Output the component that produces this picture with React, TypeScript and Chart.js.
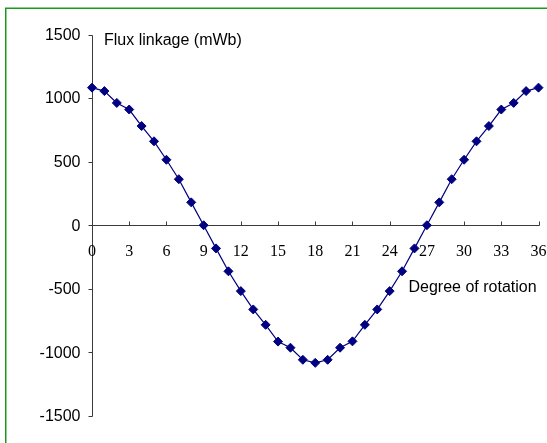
import React, { useEffect, useRef } from "react";
import { Chart, registerables } from "chart.js";

Chart.register(...registerables);

// ---- data ----
const degrees = [
  0, 1, 2, 3, 4, 5, 6, 7, 8, 9, 10, 11, 12, 13, 14, 15, 16, 17, 18,
  19, 20, 21, 22, 23, 24, 25, 26, 27, 28, 29, 30, 31, 32, 33, 34, 35, 36,
];
const fluxLinkage = [
  1082, 1055, 962, 910, 780, 660, 515, 362, 180, 0, -182, -362, -518, -662, -783, -915, -963, -1058, -1082,
  -1058, -963, -913, -783, -662, -518, -362, -182, 0, 180, 362, 515, 660, 780, 910, 962, 1055, 1082,
];
const xTickValues = [0, 3, 6, 9, 12, 15, 18, 21, 24, 27, 30, 33, 36];
const xTickLabels = ["0", "3", "6", "9", "12", "15", "18", "21", "24", "27", "30", "33", "36"];
const yTickValues = [1500, 1000, 500, 0, -500, -1000, -1500];
const yTickLabels = ["1500", "1000", "500", "0", "-500", "-1000", "-1500"];
const yAxisTitle = "Flux linkage (mWb)";
const xAxisTitle = "Degree of rotation";

const axesPlugin = {
  id: "customAxes",
  beforeDatasetsDraw(chart: any) {
    const ctx = chart.ctx as CanvasRenderingContext2D;
    const xs = chart.scales.x;
    const ys = chart.scales.y;
    ctx.save();

    // outer green frame
    ctx.strokeStyle = "#1a9a1a";
    ctx.lineWidth = 1.5;
    ctx.strokeRect(5.75, 8.25, 700, 700);

    const x0 = Math.round(xs.getPixelForValue(0)) + 0.5;
    const y0 = Math.round(ys.getPixelForValue(0)) + 0.5;
    const yTop = Math.round(ys.getPixelForValue(yTickValues[0])) + 0.5;
    const yBot = Math.round(ys.getPixelForValue(yTickValues[yTickValues.length - 1])) + 0.5;
    const xEnd = Math.round(xs.getPixelForValue(xTickValues[xTickValues.length - 1])) + 0.5;

    ctx.strokeStyle = "#3a3a3a";
    ctx.lineWidth = 1;
    ctx.beginPath();
    ctx.moveTo(x0, yTop);
    ctx.lineTo(x0, yBot);
    yTickValues.forEach((v) => {
      const py = Math.round(ys.getPixelForValue(v)) + 0.5;
      ctx.moveTo(x0 - 4, py);
      ctx.lineTo(x0, py);
    });
    ctx.moveTo(x0, y0);
    ctx.lineTo(xEnd, y0);
    xTickValues.forEach((v) => {
      const px = Math.round(xs.getPixelForValue(v)) + 0.5;
      ctx.moveTo(px, y0);
      ctx.lineTo(px, y0 - 4);
    });
    ctx.stroke();

    ctx.fillStyle = "#000";
    ctx.font = "16px 'Liberation Sans', Arial, sans-serif";
    ctx.textAlign = "right";
    ctx.textBaseline = "middle";
    yTickValues.forEach((v, i) => {
      const py = ys.getPixelForValue(v);
      ctx.fillText(yTickLabels[i], x0 - 12, py + 1);
    });

    ctx.font = "16px 'Liberation Serif', 'Times New Roman', serif";
    ctx.textAlign = "center";
    xTickValues.forEach((v, i) => {
      const px = xs.getPixelForValue(v);
      ctx.fillText(xTickLabels[i], px, y0 + 26);
    });

    ctx.font = "16px 'Liberation Sans', Arial, sans-serif";
    ctx.textAlign = "left";
    ctx.fillText(yAxisTitle, 104, 41);
    ctx.fillText(xAxisTitle, 408.5, 288);

    ctx.restore();
  },
};

export default function App() {
  const canvasRef = useRef<HTMLCanvasElement | null>(null);

  useEffect(() => {
    const canvas = canvasRef.current;
    if (!canvas) return;
    const chart = new Chart(canvas, {
      type: "line",
      data: {
        datasets: [
          {
            data: degrees.map((d, i) => ({ x: d, y: fluxLinkage[i] })),
            borderColor: "#000080",
            backgroundColor: "#000080",
            borderWidth: 1.2,
            pointStyle: "rectRot",
            pointRadius: 4.5,
            pointBorderWidth: 1,
            pointBackgroundColor: "#000080",
            pointBorderColor: "#000080",
            tension: 0,
            clip: false as any,
          },
        ],
      },
      options: {
        responsive: false,
        devicePixelRatio: 1,
        animation: false,
        layout: { padding: { left: 92, right: 8.5, top: 34.5, bottom: 27 } },
        scales: {
          x: { type: "linear", min: 0, max: 36, display: false },
          y: { type: "linear", min: -1500, max: 1500, display: false },
        },
        plugins: {
          legend: { display: false },
          tooltip: { enabled: false },
        },
        events: [],
      },
      plugins: [axesPlugin],
    });
    return () => chart.destroy();
  }, []);

  return (
    <div style={{ position: "fixed", left: 0, top: 0, width: 547, height: 443, background: "#fff" }}>
      <canvas ref={canvasRef} width={547} height={443} style={{ display: "block", width: 547, height: 443 }} />
    </div>
  );
}
